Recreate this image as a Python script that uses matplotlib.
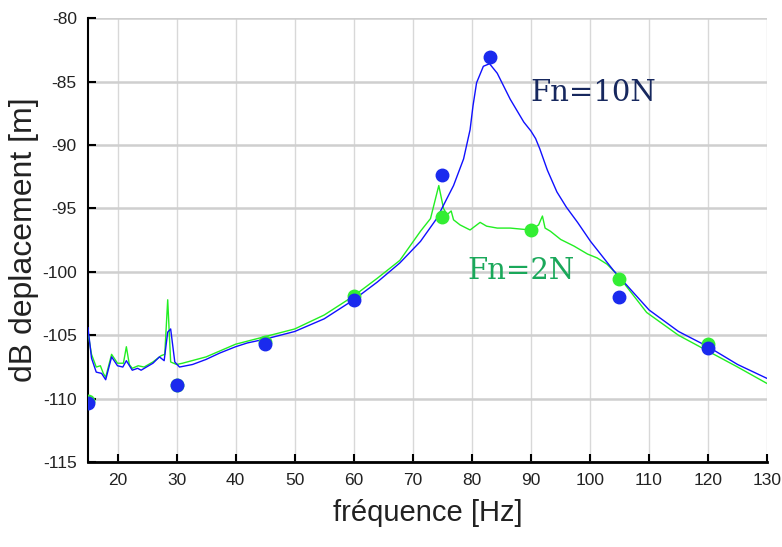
import numpy as np
import matplotlib.pyplot as plt

plt.rcParams['axes.unicode_minus'] = False

# courbe Fn=10N (bleu)
f_10 = [15, 15.6, 16.4, 17.3, 18, 19, 20, 20.9, 21.5, 22.5, 23.4, 24, 24.9, 26, 27.1, 27.9,
        28.5, 29, 29.7, 30.5, 32.7, 35, 37.3, 40, 42, 45, 50, 55, 60, 64, 67.8, 71.3, 74.05,
        76.9, 78.6, 79.7, 80.2, 80.8, 81.95, 83.0, 84.3, 86.5, 88.8, 90.0, 90.8, 91.5, 92.8,
        94.4, 96.0, 97.9, 100.1, 104, 110, 115, 120, 122.5, 125, 130]
db_10 = [-104.4, -106.8, -107.9, -108.0, -108.5, -106.7, -107.4, -107.5, -107.0, -107.75,
         -107.6, -107.75, -107.5, -107.2, -106.7, -107.0, -104.75, -104.5, -107.1, -107.5,
         -107.3, -106.9, -106.4, -105.9, -105.6, -105.3, -104.7, -103.7, -102.2, -100.8,
         -99.3, -97.6, -95.8, -93.2, -91.1, -88.8, -86.9, -85.1, -83.8, -83.6, -84.35, -86.4,
         -88.2, -88.9, -89.5, -90.3, -92.0, -93.7, -94.9, -96.1, -97.6, -99.9, -103.0,
         -104.7, -105.9, -106.6, -107.3, -108.4]

# courbe Fn=2N (vert)
f_2 = [15, 15.6, 16.4, 17.1, 17.6, 18, 19, 20, 21, 21.5, 22, 22.5, 23.5, 24.5, 26, 27.4, 28.0,
       28.5, 29, 30, 31, 35, 40, 45, 50, 55, 60, 64, 67.8, 71.3, 73.0, 74.4, 75.2, 75.8, 76.5,
       76.9, 78.0, 79.7, 81.4, 82.5, 84.3, 86.5, 89.9, 91.3, 91.95, 92.4, 93.3, 95.05, 97.3,
       99.6, 101.2, 102.9, 104.6, 109.6, 115, 119.8, 125, 130]
db_2 = [-104.8, -106.5, -107.5, -107.4, -108.0, -108.3, -106.5, -107.2, -107.2, -105.9,
        -107.3, -107.6, -107.4, -107.5, -107.1, -106.6, -106.5, -102.2, -107.1, -107.3,
        -107.2, -106.7, -105.7, -105.1, -104.5, -103.4, -101.9, -100.5, -99.1, -96.8, -95.8,
        -93.2, -95.0, -95.5, -95.2, -95.9, -96.3, -96.7, -96.1, -96.4, -96.55, -96.55, -96.7,
        -96.3, -95.6, -96.55, -96.8, -97.45, -97.97, -98.6, -98.9, -99.4, -100.2, -103.2,
        -105.0, -106.2, -107.5, -108.8]

# points mesures
fm_10 = [15, 30, 45, 60, 75, 83, 105, 120]
dbm_10 = [-110.3, -108.9, -105.7, -102.2, -92.4, -83.1, -102.0, -106.0]
fm_2 = [15, 30, 45, 60, 75, 90, 105, 120]
dbm_2 = [-110.2, -108.9, -105.5, -101.9, -95.7, -96.7, -100.6, -105.7]

fig = plt.figure(figsize=(7.82, 5.47), dpi=100)
ax = fig.add_axes([0.1125, 0.155, 0.8685, 0.812])

ax.plot(f_2, db_2, color='#22ee22', lw=1.0, zorder=3)
ax.plot(f_10, db_10, color='#1010ff', lw=1.0, zorder=3)
ax.plot(fm_2, dbm_2, 'o', color='#33ee33', ms=9, zorder=4)
ax.plot(fm_10, dbm_10, 'o', color='#1a2aee', ms=9, zorder=5)

ax.text(100.6, -85.9, 'Fn=10N', color='#17285e', fontsize=21, family='DejaVu Serif',
        ha='center', va='center')
ax.text(88.4, -99.9, 'Fn=2N', color='#1aa85a', fontsize=21, family='DejaVu Serif',
        ha='center', va='center')

ax.set_xlim(15, 130)
ax.set_ylim(-115, -80)
ax.set_xticks(np.arange(20, 131, 10))
ax.set_yticks(np.arange(-115, -79, 5))

ax.xaxis.grid(True, color='#d8d8d8', lw=1.0)
ax.yaxis.grid(True, color='#cfcfcf', lw=1.8)
ax.set_axisbelow(True)

for s in ['top', 'right']:
    ax.spines[s].set_visible(False)
ax.spines['left'].set_linewidth(1.5)
ax.spines['bottom'].set_linewidth(2)
ax.tick_params(direction='in', length=6, width=1.5, labelsize=12.5, pad=8)
for lab in ax.get_xticklabels() + ax.get_yticklabels():
    lab.set_family('Liberation Sans')
    lab.set_color('#222222')

ax.set_xlabel('fréquence [Hz]', fontsize=21, family='Liberation Sans', color='#222222', labelpad=8)
ax.set_ylabel('dB deplacement [m]', fontsize=23, family='Liberation Sans', color='#222222', labelpad=2)

fig.savefig('out.png', dpi=100)
